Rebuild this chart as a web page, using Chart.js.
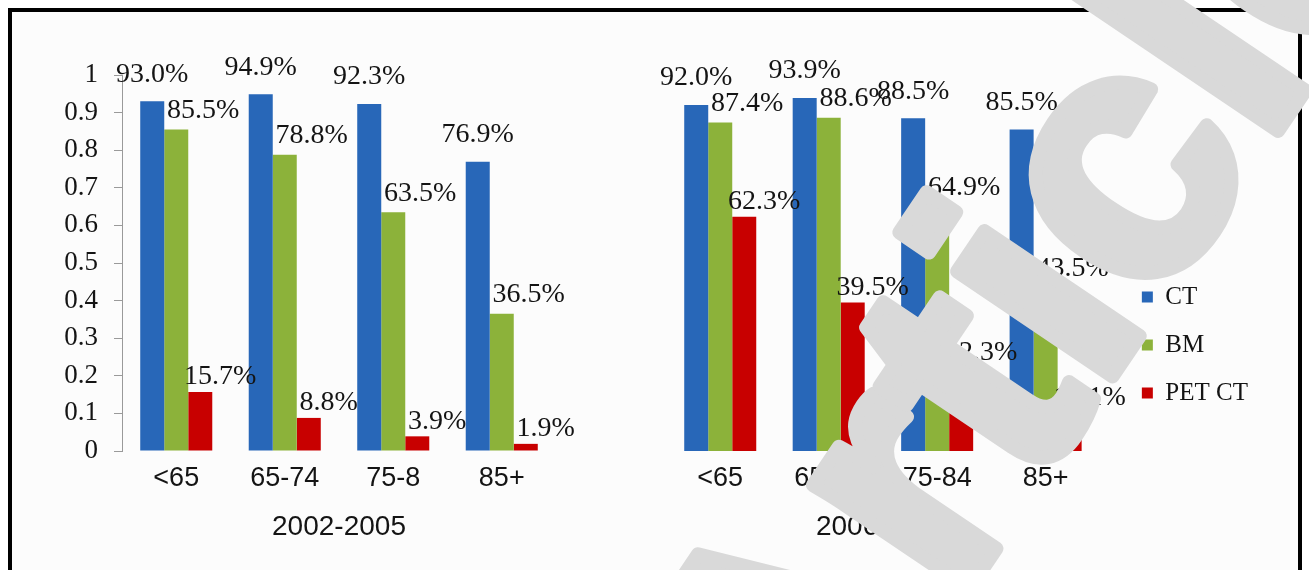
<!DOCTYPE html>
<html>
<head>
<meta charset="utf-8">
<script src="https://cdn.jsdelivr.net/npm/chart.js@4.4.1/dist/chart.umd.min.js"></script>
<style>
  html, body { margin: 0; padding: 0; background: #fff; }
  body { width: 1309px; height: 570px; position: relative; overflow: hidden; }
  #frame { position: absolute; left: 8px; top: 8px; width: 1294px; height: 640px;
           box-sizing: border-box; border: 4px solid #000; background: #fcfcfc; }
  canvas { position: absolute; left: 0; top: 0; }
</style>
</head>
<body>
<div id="frame"></div>
<canvas id="early" width="1309" height="570"></canvas>
<canvas id="late" width="1309" height="570"></canvas>
<script>
// age groups per period (the first panel's third label is cut short)
var ageGroupsEarly = ["<65", "65-74", "75-8", "85+"];
var ageGroupsLate = ["<65", "65-74", "75-84", "85+"];
var seriesNames = ["CT", "BM", "PET CT"];
var seriesColors = ["#2867b8", "#8cb23a", "#c80000"];

// share of patients with each exam, 2002-2005
var ctEarly = [0.930, 0.949, 0.923, 0.769];
var bmEarly = [0.855, 0.788, 0.635, 0.365];
var petEarly = [0.157, 0.088, 0.039, 0.019];

// share of patients with each exam, 2006-2009
var ctLate = [0.920, 0.939, 0.885, 0.855];
var bmLate = [0.874, 0.886, 0.649, 0.435];
var petLate = [0.623, 0.395, 0.223, 0.101];

// value labels sit above each bar, nudged right for BM / PET CT
var labelDx = [0, 27, 20];
var labelDy = [27, 19, 15];

var serif = '"Liberation Serif", "Times New Roman", serif';
var sans = '"Liberation Sans", Arial, sans-serif';

var valueLabels = {
  id: "valueLabels",
  afterDatasetsDraw: function (chart) {
    var ctx = chart.ctx;
    ctx.save();
    ctx.font = "28px " + serif;
    ctx.fillStyle = "#141414";
    ctx.textAlign = "center";
    ctx.textBaseline = "middle";
    chart.data.datasets.forEach(function (ds, i) {
      chart.getDatasetMeta(i).data.forEach(function (bar, j) {
        var txt = (ds.data[j] * 100).toFixed(1) + "%";
        ctx.fillText(txt, bar.x + labelDx[i], bar.y - labelDy[i]);
      });
    });
    ctx.restore();
  },
};

// grey "Article" stamp across the right half
var stamp = {
  id: "stamp",
  afterDraw: function (chart) {
    var ctx = chart.ctx;
    ctx.save();
    ctx.translate(812, 822);
    ctx.rotate((-56 * Math.PI) / 180);
    ctx.font = "bold 355px " + sans;
    ctx.fillStyle = "#d9d9d9";
    ctx.strokeStyle = "#d9d9d9";
    ctx.lineJoin = "round";
    ctx.lineWidth = 14;
    ctx.fillText("Article", 0, 0);
    ctx.strokeText("Article", 0, 0);
    ctx.restore();
  },
};

function makeDatasets(ct, bm, pet) {
  return [ct, bm, pet].map(function (vals, i) {
    return {
      label: seriesNames[i],
      data: vals,
      backgroundColor: seriesColors[i],
      borderWidth: 0,
      categoryPercentage: 0.664,
      barPercentage: 1.0,
    };
  });
}

function xAxis(title) {
  return {
    grid: { display: false, drawTicks: false },
    border: { display: false },
    ticks: { color: "#141414", font: { family: sans, size: 27 }, padding: 11 },
    title: {
      display: true,
      text: title,
      color: "#141414",
      font: { family: sans, size: 28 },
      padding: { top: 5, bottom: 0 },
    },
  };
}

new Chart(document.getElementById("early"), {
  type: "bar",
  data: { labels: ageGroupsEarly, datasets: makeDatasets(ctEarly, bmEarly, petEarly) },
  options: {
    responsive: false,
    animation: false,
    layout: { padding: { left: 62, right: 753, top: 75, bottom: 26 } },
    plugins: { legend: { display: false }, tooltip: { enabled: false } },
    scales: {
      x: xAxis("2002-2005"),
      y: {
        min: 0,
        max: 1,
        afterFit: function (s) { s.width = 60; },
        ticks: {
          stepSize: 0.1,
          color: "#141414",
          font: { family: serif, size: 27 },
          padding: 16,
          callback: function (v) { return String(Math.round(v * 10) / 10); },
        },
        grid: { drawOnChartArea: false, drawTicks: true, tickLength: 8, color: "#9a9a9a" },
        border: { display: true, color: "#9a9a9a", width: 1 },
      },
    },
  },
  plugins: [valueLabels],
});

new Chart(document.getElementById("late"), {
  type: "bar",
  data: { labels: ageGroupsLate, datasets: makeDatasets(ctLate, bmLate, petLate) },
  options: {
    responsive: false,
    animation: false,
    layout: { padding: { left: 666, right: 51, top: 75, bottom: 26 } },
    plugins: {
      tooltip: { enabled: false },
      legend: {
        position: "right",
        align: "start",
        fullSize: false,
        title: { display: true, text: "", font: { size: 10 }, padding: { top: 174.5, bottom: 0 } },
        labels: {
          color: "#141414",
          font: { family: serif, size: 25 },
          boxWidth: 11,
          boxHeight: 11,
          padding: 23,
        },
      },
    },
    scales: {
      x: xAxis("2006-2009"),
      y: {
        position: "right",
        min: 0,
        max: 1,
        afterFit: function (s) { s.width = 19; },
        ticks: { display: false, stepSize: 0.1 },
        grid: { display: false, drawTicks: false },
        border: { display: false },
      },
    },
  },
  plugins: [valueLabels, stamp],
});
</script>
</body>
</html>
